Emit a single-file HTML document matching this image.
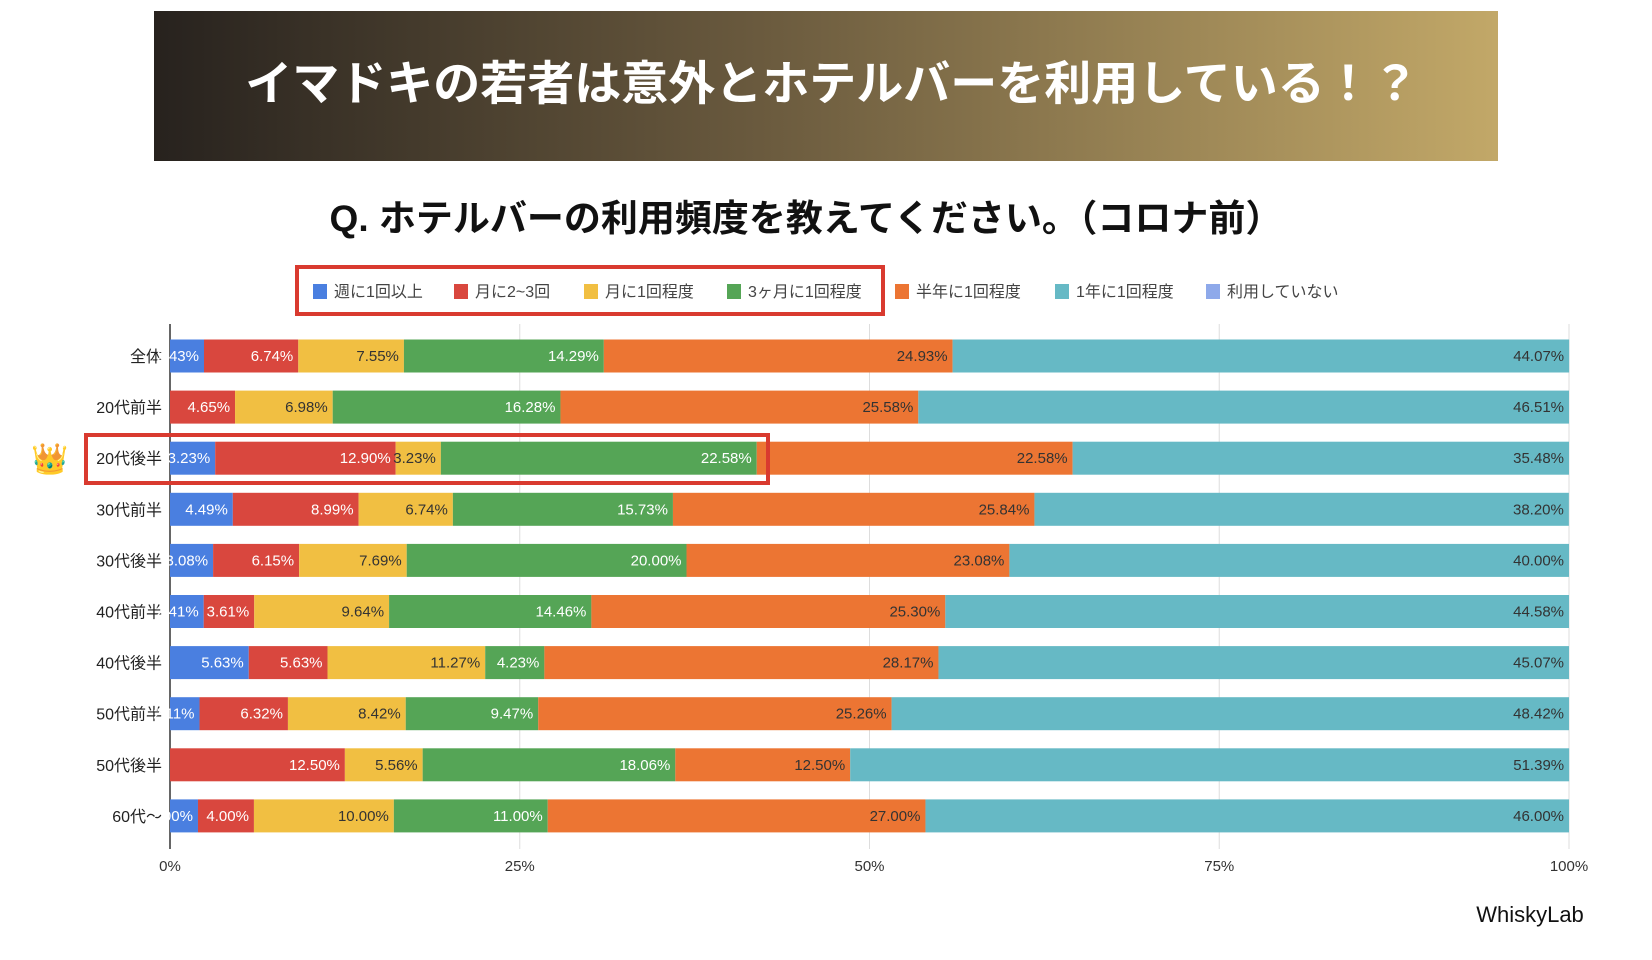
<!DOCTYPE html>
<html><head><meta charset="utf-8"><style>
body{margin:0;background:#fff;}
svg text{font-family:"Liberation Sans","Noto Sans CJK JP",sans-serif;}
</style></head><body>
<svg id="c" width="1652" height="955" viewBox="0 0 1652 955" xmlns="http://www.w3.org/2000/svg">
<defs><linearGradient id="bg" x1="0" x2="1" y1="0" y2="0"><stop offset="0" stop-color="#27221e"/><stop offset="0.45" stop-color="#6a5a3e"/><stop offset="1" stop-color="#c2a868"/></linearGradient></defs>
<rect x="154" y="11" width="1344" height="150" fill="url(#bg)"/>
<text x="832" y="100" text-anchor="middle" font-size="47" font-weight="bold" fill="#fff">イマドキの若者は意外とホテルバーを利用している！？</text>
<text x="806" y="231" text-anchor="middle" font-size="37" font-weight="bold" fill="#111">Q. ホテルバーの利用頻度を教えてください。（コロナ前）</text>
<rect x="297" y="267" width="586" height="47" fill="none" stroke="#d93a2f" stroke-width="4"/>
<g id="legend"></g>
<g id="grid"></g>
<g id="bars"></g>
<rect x="86" y="435" width="682" height="48" fill="none" stroke="#d93a2f" stroke-width="4"/>
<text x="50" y="469" text-anchor="middle" font-size="30">👑</text>
<text x="1530" y="922" text-anchor="middle" font-size="22" font-family="Liberation Serif, serif" fill="#111">WhiskyLab</text>
</svg>
<script>
const categories=["全体","20代前半","20代後半","30代前半","30代後半","40代前半","40代後半","50代前半","50代後半","60代〜"];
const seriesNames=["週に1回以上","月に2~3回","月に1回程度","3ヶ月に1回程度","半年に1回程度","1年に1回程度","利用していない"];
const sWeekly=[2.43,0,3.23,4.49,3.08,2.41,5.63,2.11,0,2.00];
const sMonthly23=[6.74,4.65,12.90,8.99,6.15,3.61,5.63,6.32,12.50,4.00];
const sMonthly1=[7.55,6.98,3.23,6.74,7.69,9.64,11.27,8.42,5.56,10.00];
const sQuarter=[14.29,16.28,22.58,15.73,20.00,14.46,4.23,9.47,18.06,11.00];
const sHalfYear=[24.93,25.58,22.58,25.84,23.08,25.30,28.17,25.26,12.50,27.00];
const sYearly=[44.07,46.51,35.48,38.20,40.00,44.58,45.07,48.42,51.39,46.00];
const sNone=[0,0,0,0,0,0,0,0,0,0];
const xTicks=[0,25,50,75,100];
const series=[sWeekly,sMonthly23,sMonthly1,sQuarter,sHalfYear,sYearly,sNone];
const colors=["#4a7fe0","#d9473e","#f1bf42","#55a556","#ec7533","#66b9c5","#8ea9ea"];
const textCol=["#fff","#fff","#333","#fff","#333","#333","#333"];
const NS="http://www.w3.org/2000/svg";
const X0=170,X1=1569,Y0=356,ROW=51.1,BH=33;
const xs=v=>X0+(X1-X0)*v/100;
const ys=i=>Y0+i*ROW;
function mk(t,a,p){const e=document.createElementNS(NS,t);for(const k in a)e.setAttribute(k,a[k]);p.appendChild(e);return e;}
const grid=document.getElementById('grid'),bars=document.getElementById('bars'),leg=document.getElementById('legend');
xTicks.forEach(t=>{
 const l=mk('line',{x1:xs(t),x2:xs(t),y1:324,y2:849,stroke:t===0?'#333':'#ddd','stroke-width':t===0?1.5:1},grid);
 
 
 const tx=mk('text',{x:xs(t),y:871,'text-anchor':'middle','font-size':15,fill:'#333'},grid);
 tx.textContent=t+'%';
 
 
});
const legX=[320,461,591,734,902,1062,1213];
seriesNames.forEach((n,i)=>{
 const r=mk('rect',{x:legX[i]-7,y:284,width:14,height:15,fill:colors[i]},leg);
 
 
 const t=mk('text',{x:legX[i]+14,y:297,'font-size':16,fill:'#444'},leg);
 t.textContent=n;
 
 
});
categories.forEach((c,i)=>{
 const cy=ys(i);
 const lb=mk('text',{x:162,y:cy+6,'text-anchor':'end','font-size':16,fill:'#222'},bars);
 lb.textContent=c;
 
 
 let acc=0;
 series.forEach((s,j)=>{
  const v=s[i]; if(!v)return;
  const r=mk('rect',{x:xs(acc),y:cy-BH/2,width:xs(acc+v)-xs(acc),height:BH,fill:colors[j]},bars);
  
  
  acc+=v;
  const t=mk('text',{x:xs(acc)-5,y:cy+5,'text-anchor':'end','font-size':15,fill:textCol[j]},bars);
  t.textContent=v.toFixed(2)+'%';
  
  
 });
});
</script>
</body></html>
